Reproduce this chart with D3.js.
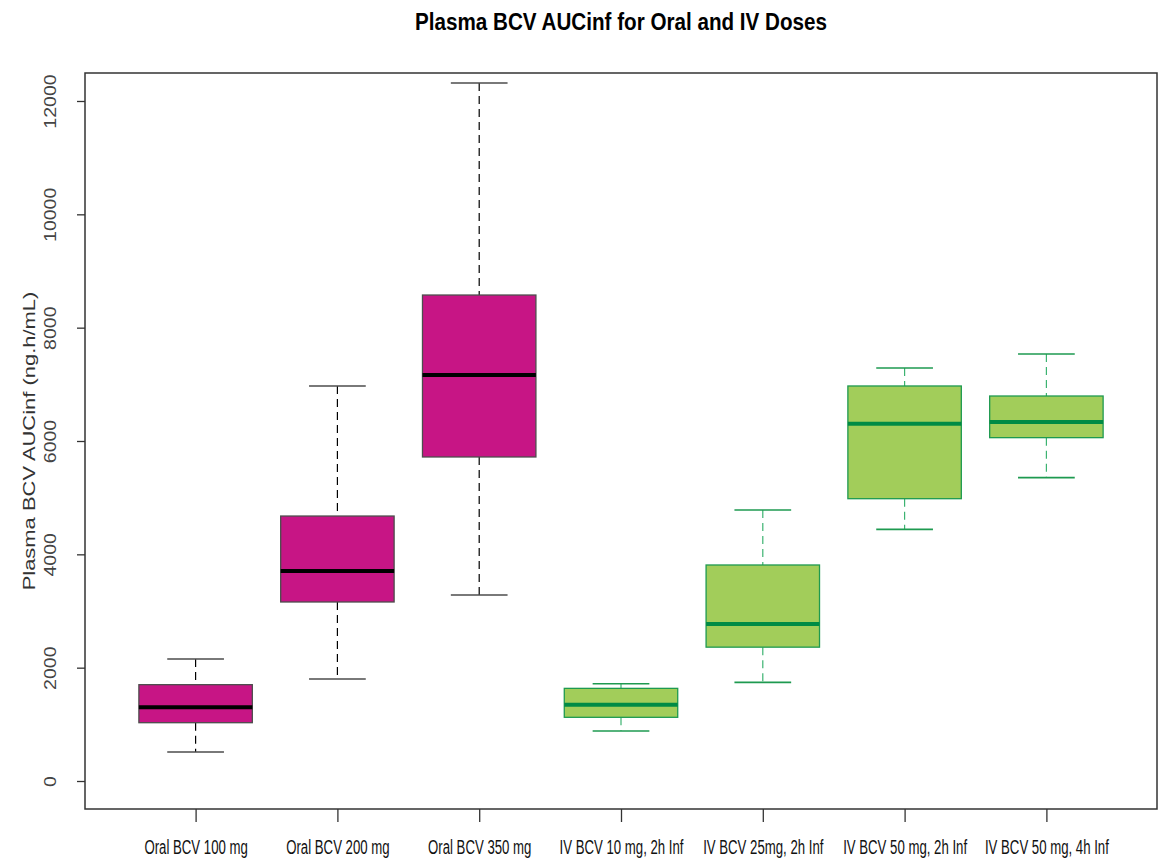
<!DOCTYPE html>
<html lang="en">
<head>
    <meta charset="UTF-8">
    <title>Plasma BCV AUCinf</title>
    <script src="https://cdn.jsdelivr.net/npm/d3@7/dist/d3.min.js"></script>
    <style>
        body { margin: 0; background: #fff; }
        text { font-family: "Liberation Sans", Arial, sans-serif; }
    </style>
</head>
<body>
<script>
    // canvas
    const width = 1166;
    const height = 861;
    const margin = { top: 73, right: 9, bottom: 52, left: 85 };

    // data
    const groups = ['Oral BCV 100 mg', 'Oral BCV 200 mg', 'Oral BCV 350 mg',
        'IV BCV 10 mg, 2h Inf', 'IV BCV 25mg, 2h Inf', 'IV BCV 50 mg, 2h Inf', 'IV BCV 50 mg, 4h Inf'];
    const whiskerLow = [512, 1800, 3282, 882, 1741, 4441, 5353];
    const q1 = [1029, 3159, 5718, 1124, 2362, 4982, 6059];
    const median = [1300, 3706, 7165, 1347, 2771, 6306, 6335];
    const q3 = [1700, 4676, 8576, 1635, 3812, 6971, 6794];
    const whiskerHigh = [2153, 6970, 12318, 1717, 4782, 7288, 7535];
    const route = ['oral', 'oral', 'oral', 'iv', 'iv', 'iv', 'iv'];
    const yTicks = [0, 2000, 4000, 6000, 8000, 10000, 12000];

    const style = {
        oral: { fill: '#C71585', border: '#4d4d4d', median: '#000000', whisker: '#000000', cap: '#4d4d4d' },
        iv: { fill: '#A2CD5A', border: '#1E9A50', median: '#008B45', whisker: '#3CB371', cap: '#1E9A50' }
    };

    const boxes = groups.map((g, i) => ({
        name: g, lo: whiskerLow[i], q1: q1[i], med: median[i], q3: q3[i], hi: whiskerHigh[i], s: style[route[i]]
    }));

    let svg = d3.select('body')
        .append('svg')
        .attr('width', width)
        .attr('height', height);

    const x = d3.scaleLinear()
        .domain([0.22, 7.78])
        .range([margin.left, width - margin.right]);
    const y = d3.scaleLinear()
        .domain([-494, 12494])
        .range([height - margin.bottom, margin.top]);

    const boxW = 0.8, capW = 0.4;

    // boxes
    let g = svg.append('g').selectAll('g')
        .data(boxes)
        .enter()
        .append('g');

    // dashed whiskers
    g.append('line')
        .attr('x1', (d, i) => x(i + 1)).attr('x2', (d, i) => x(i + 1))
        .attr('y1', d => y(d.hi)).attr('y2', d => y(d.q3))
        .attr('stroke', d => d.s.whisker).attr('stroke-width', 1.2)
        .attr('stroke-dasharray', '8,5');
    g.append('line')
        .attr('x1', (d, i) => x(i + 1)).attr('x2', (d, i) => x(i + 1))
        .attr('y1', d => y(d.q1)).attr('y2', d => y(d.lo))
        .attr('stroke', d => d.s.whisker).attr('stroke-width', 1.2)
        .attr('stroke-dasharray', '8,5');

    // caps
    ['hi', 'lo'].forEach(k => {
        g.append('line')
            .attr('x1', (d, i) => x(i + 1 - capW / 2)).attr('x2', (d, i) => x(i + 1 + capW / 2))
            .attr('y1', d => y(d[k])).attr('y2', d => y(d[k]))
            .attr('stroke', d => d.s.cap).attr('stroke-width', 1.6);
    });

    g.append('rect')
        .attr('x', (d, i) => x(i + 1 - boxW / 2))
        .attr('width', x(1 + boxW) - x(1))
        .attr('y', d => y(d.q3))
        .attr('height', d => y(d.q1) - y(d.q3))
        .attr('fill', d => d.s.fill)
        .attr('stroke', d => d.s.border)
        .attr('stroke-width', 1.3);

    g.append('line')
        .attr('x1', (d, i) => x(i + 1 - boxW / 2)).attr('x2', (d, i) => x(i + 1 + boxW / 2))
        .attr('y1', d => y(d.med)).attr('y2', d => y(d.med))
        .attr('stroke', d => d.s.median).attr('stroke-width', 4);

    // frame
    svg.append('rect')
        .attr('x', margin.left).attr('y', margin.top)
        .attr('width', width - margin.left - margin.right)
        .attr('height', height - margin.top - margin.bottom)
        .attr('fill', 'none').attr('stroke', '#333').attr('stroke-width', 1.5);

    // y axis
    let yAxis = svg.append('g')
        .attr('transform', `translate(${margin.left},0)`)
        .call(d3.axisLeft(y).tickValues(yTicks).tickSize(8).tickFormat(d3.format('d')));
    yAxis.select('.domain').remove();
    yAxis.selectAll('line').attr('stroke', '#333').attr('stroke-width', 1.3);
    yAxis.selectAll('.tick text')
        .attr('fill', '#444').attr('font-size', 17)
        .attr('transform', 'rotate(-90) scale(1.15,1)')
        .attr('x', 0).attr('y', -29)
        .attr('dy', 0)
        .attr('text-anchor', 'middle');

    // x axis (labels squeezed, the source uses a narrow face)
    let xAxis = svg.append('g')
        .attr('transform', `translate(0,${height - margin.bottom})`)
        .call(d3.axisBottom(x).tickValues(d3.range(1, 8)).tickSize(13)
            .tickFormat(d => groups[d - 1]));
    xAxis.select('.domain').remove();
    xAxis.selectAll('line').attr('stroke', '#333').attr('stroke-width', 1.3);
    xAxis.selectAll('.tick text')
        .attr('fill', '#111').attr('font-size', 20)
        .attr('y', 45).attr('dy', 0)
        .attr('transform', 'scale(0.66,1)');

    // axis title
    svg.append('text')
        .attr('transform', `translate(35,${(margin.top + height - margin.bottom) / 2}) rotate(-90) scale(1.33,1)`)
        .attr('text-anchor', 'middle')
        .attr('fill', '#333')
        .attr('font-size', 16.5)
        .text('Plasma BCV AUCinf (ng.h/mL)');

    // title
    svg.append('text')
        .attr('transform', 'translate(621,30) scale(0.86,1)')
        .attr('text-anchor', 'middle')
        .attr('font-size', 24)
        .attr('font-weight', 'bold')
        .attr('fill', '#000')
        .text('Plasma BCV AUCinf for Oral and IV Doses');
</script>
</body>
</html>
